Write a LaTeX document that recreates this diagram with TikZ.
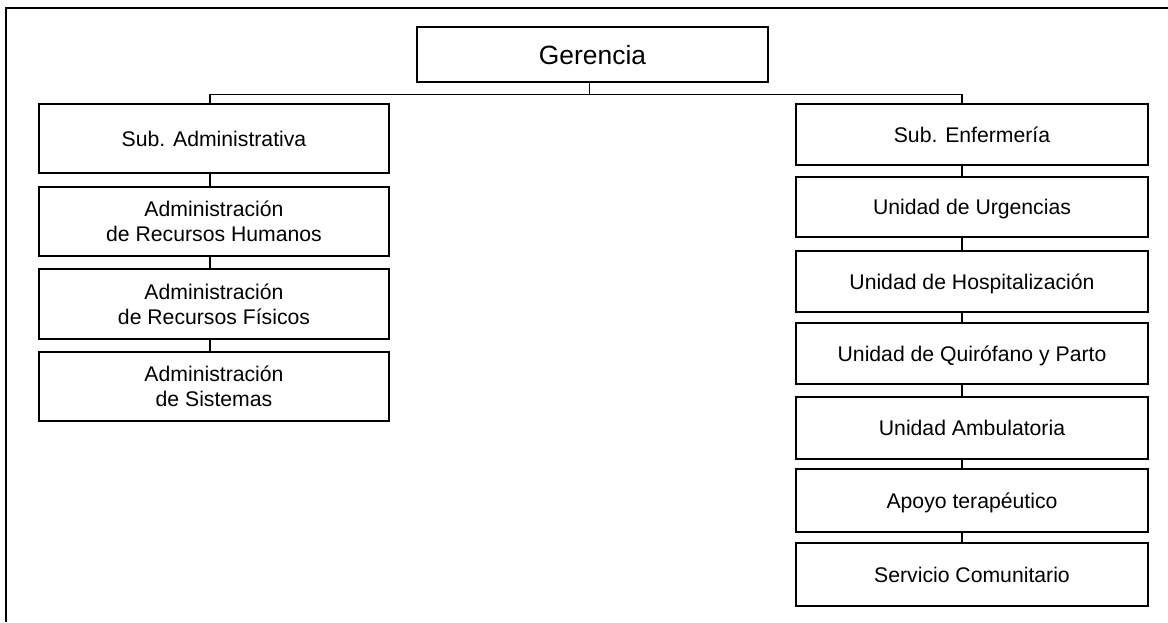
\documentclass[tikz,border=0pt]{standalone}
\usepackage{fontspec}
\setmainfont{Liberation Sans}
\begin{document}
\begin{tikzpicture}[x=1pt,y=-1pt,
  box/.style={draw=black,line width=1.2pt,fill=white,inner sep=0pt,align=center,
    font=\fontsize{21.2}{25}\selectfont},
  onel/.style={text height=15.2pt,text depth=0pt},
  lbox/.style={box,minimum width=350pt},
  rbox/.style={box,minimum width=352pt},
  conn/.style={draw=black,line width=1.2pt}]
\useasboundingbox (0,0) rectangle (1168,622);
% frame
\draw[line width=2.5pt] (6,622) -- (6,8) -- (1168,8);
% top
\node[box,onel,minimum width=351pt,minimum height=55pt,font=\fontsize{26.4}{30}\selectfont,text height=19pt]
  (ger) at (592.5,54.5) {Gerencia};
% left column
\node[lbox,onel,minimum height=69pt] (subadm) at (214,138.5) {Sub. Administrativa};
\node[lbox,minimum height=69pt] (rh) at (214,221.5) {Administración\\de Recursos Humanos};
\node[lbox,minimum height=70pt] (rf) at (214,304) {Administración\\de Recursos Físicos};
\node[lbox,minimum height=69pt] (sis) at (214,386.5) {Administración\\de Sistemas};
% right column
\node[rbox,onel,minimum height=61pt] (subenf) at (972,134.5) {Sub. Enfermería};
\node[rbox,onel,minimum height=60pt] (urg) at (972,207) {Unidad de Urgencias};
\node[rbox,onel,minimum height=61pt] (hosp) at (972,281.5) {Unidad de Hospitalización};
\node[rbox,onel,minimum height=61pt] (quir) at (972,353.5) {Unidad de Quirófano y Parto};
\node[rbox,onel,minimum height=62pt] (amb) at (972,428) {Unidad Ambulatoria};
\node[rbox,onel,minimum height=63pt] (apo) at (972,500.5) {Apoyo terapéutico};
\node[rbox,onel,minimum height=63pt] (serv) at (972,574.5) {Servicio Comunitario};
% connector columns
\coordinate (gx) at (589.5,94.5);
\coordinate (lx) at (210,0);
\coordinate (rx) at (962,0);
\draw[conn] (ger.south -| gx) -- (gx);
\draw[conn] (subadm.north -| lx) |- (gx) -| (subenf.north -| rx);
\draw[conn] (subadm.south -| lx) -- (rh.north -| lx);
\draw[conn] (rh.south -| lx) -- (rf.north -| lx);
\draw[conn] (rf.south -| lx) -- (sis.north -| lx);
\draw[conn] (subenf.south -| rx) -- (urg.north -| rx);
\draw[conn] (urg.south -| rx) -- (hosp.north -| rx);
\draw[conn] (hosp.south -| rx) -- (quir.north -| rx);
\draw[conn] (quir.south -| rx) -- (amb.north -| rx);
\draw[conn] (amb.south -| rx) -- (apo.north -| rx);
\draw[conn] (apo.south -| rx) -- (serv.north -| rx);
\end{tikzpicture}
\end{document}
